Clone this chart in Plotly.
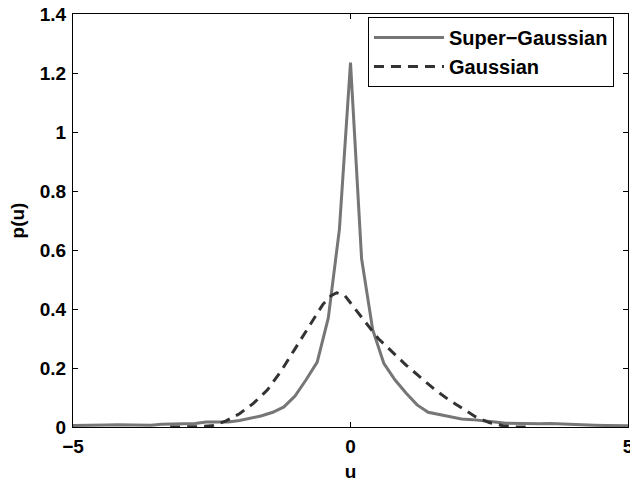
import plotly.graph_objects as go

# Super-Gaussian (solid gray)
u_super = [-5.0, -4.8, -4.6, -4.4, -4.2, -4.0, -3.8, -3.6, -3.4, -3.2, -3.0, -2.8, -2.6, -2.4, -2.2,
           -2.0, -1.8, -1.6, -1.4, -1.2, -1.0, -0.8, -0.6, -0.4, -0.2, 0.0, 0.2, 0.4, 0.6, 0.8,
           1.0, 1.2, 1.4, 1.6, 1.8, 2.0, 2.2, 2.4, 2.6, 2.8, 3.0, 3.2, 3.4, 3.6, 3.8, 4.0,
           4.2, 4.4, 4.6, 4.8, 5.0]
p_super = [0.005, 0.005, 0.006, 0.007, 0.008, 0.008, 0.007, 0.006, 0.009, 0.010, 0.010, 0.012, 0.017,
           0.018, 0.017, 0.022, 0.030, 0.038, 0.050, 0.068, 0.105, 0.160, 0.220, 0.370, 0.670, 1.235,
           0.570, 0.330, 0.216, 0.160, 0.115, 0.075, 0.050, 0.042, 0.035, 0.027, 0.025, 0.022, 0.017,
           0.013, 0.012, 0.012, 0.011, 0.012, 0.010, 0.009, 0.007, 0.006, 0.005, 0.004, 0.004]

# Gaussian (dashed dark)
u_gauss = [-3.25, -3.0, -2.75, -2.5, -2.25, -2.0, -1.75, -1.5, -1.25, -1.0, -0.75, -0.5, -0.35, -0.25,
           -0.1, 0.0, 0.25, 0.5, 0.75, 1.0, 1.25, 1.5, 1.75, 2.0, 2.25, 2.5, 2.75, 3.0, 3.25]
p_gauss = [0.0, 0.0, 0.001, 0.004, 0.020, 0.045, 0.080, 0.125, 0.190, 0.265, 0.340, 0.415, 0.445,
           0.455, 0.445, 0.420, 0.360, 0.300, 0.255, 0.210, 0.170, 0.130, 0.095, 0.064, 0.035,
           0.015, 0.004, 0.0, 0.0]

x_ticks = [-5, 0, 5]
y_ticks = [0, 0.2, 0.4, 0.6, 0.8, 1, 1.2, 1.4]
y_ticklabels = ["0", "0.2", "0.4", "0.6", "0.8", "1", "1.2", "1.4"]

FONT = "Liberation Sans, Arial, Helvetica, sans-serif"

fig = go.Figure()
fig.add_trace(go.Scatter(x=u_super, y=p_super, mode="lines", name="Super\u2212Gaussian",
                         line=dict(color="#767676", width=3)))
fig.add_trace(go.Scatter(x=u_gauss, y=p_gauss, mode="lines", name="Gaussian",
                         line=dict(color="#333333", width=3, dash="10px,7px")))

fig.update_layout(
    width=630, height=483,
    margin=dict(l=73, r=2, t=14, b=56, pad=0),
    paper_bgcolor="white", plot_bgcolor="white",
    font=dict(family=FONT, size=19, color="black", weight="bold"),
    showlegend=True,
    legend=dict(x=0.5315, y=0.993, xanchor="left", yanchor="top",
                bgcolor="white", bordercolor="black", borderwidth=1,
                font=dict(family=FONT, size=20, color="black", weight="bold"),
                itemwidth=70, tracegroupgap=0),
)
fig.update_xaxes(range=[-5, 5], tickmode="array", tickvals=x_ticks, automargin=False,
                 ticks="inside", ticklen=5, tickcolor="black", showline=True, linecolor="black",
                 linewidth=1, mirror="ticks", showgrid=False, zeroline=False,
                 ticklabeloverflow="allow", ticklabelstandoff=2,
                 title=dict(text="u", standoff=8, font=dict(family=FONT, size=19, weight="bold")))
fig.update_yaxes(range=[0, 1.4], tickmode="array", tickvals=y_ticks, ticktext=y_ticklabels,
                 automargin=False,
                 ticks="inside", ticklen=5, tickcolor="black", showline=True, linecolor="black",
                 linewidth=1, mirror="ticks", showgrid=False, zeroline=False,
                 ticklabeloverflow="allow", ticklabelstandoff=2,
                 title=dict(text="p(u)", standoff=10, font=dict(family=FONT, size=19, weight="bold")))

fig.write_html("out.html")
